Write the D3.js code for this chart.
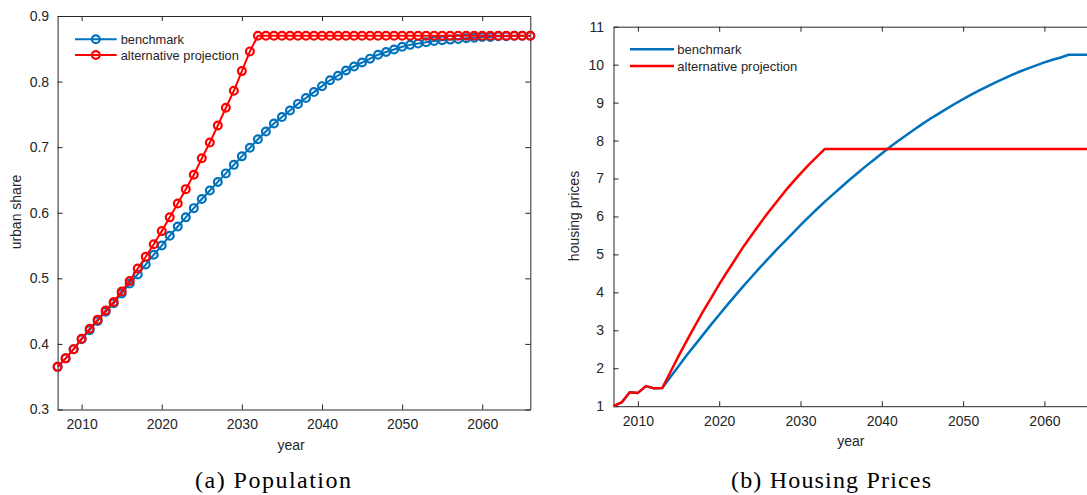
<!DOCTYPE html>
<html>
<head>
<meta charset="utf-8">
<script src="https://cdn.jsdelivr.net/npm/d3@7"></script>
<style>
  body { margin: 0; background: #fff; }
  svg { display: block; }
</style>
</head>
<body>
<script>
// years on the x axis, one point per year
const years = [2007, 2008, 2009, 2010, 2011, 2012, 2013, 2014, 2015, 2016,
  2017, 2018, 2019, 2020, 2021, 2022, 2023, 2024, 2025, 2026,
  2027, 2028, 2029, 2030, 2031, 2032, 2033, 2034, 2035, 2036,
  2037, 2038, 2039, 2040, 2041, 2042, 2043, 2044, 2045, 2046,
  2047, 2048, 2049, 2050, 2051, 2052, 2053, 2054, 2055, 2056,
  2057, 2058, 2059, 2060, 2061, 2062, 2063, 2064, 2065, 2066]

// (a) urban share
const popBenchmark = [0.365, 0.378, 0.392, 0.407, 0.421, 0.435, 0.449, 0.462, 0.477, 0.492,
  0.506, 0.521, 0.536, 0.550, 0.565, 0.579, 0.593, 0.607, 0.621, 0.634,
  0.647, 0.660, 0.673, 0.686, 0.699, 0.712, 0.724, 0.736, 0.746, 0.756,
  0.766, 0.775, 0.784, 0.793, 0.802, 0.809, 0.817, 0.823, 0.829, 0.835,
  0.841, 0.845, 0.849, 0.853, 0.856, 0.858, 0.860, 0.862, 0.863, 0.864,
  0.865, 0.866, 0.867, 0.868, 0.868, 0.869, 0.869, 0.870, 0.870, 0.870]
const popAlternative = [0.365, 0.378, 0.392, 0.408, 0.423, 0.437, 0.451, 0.464, 0.480, 0.496,
  0.515, 0.533, 0.552, 0.572, 0.593, 0.614, 0.636, 0.658, 0.683, 0.707,
  0.733, 0.760, 0.786, 0.816, 0.846, 0.870, 0.870, 0.870, 0.870, 0.870,
  0.870, 0.870, 0.870, 0.870, 0.870, 0.870, 0.870, 0.870, 0.870, 0.870,
  0.870, 0.870, 0.870, 0.870, 0.870, 0.870, 0.870, 0.870, 0.870, 0.870,
  0.870, 0.870, 0.870, 0.870, 0.870, 0.870, 0.870, 0.870, 0.870, 0.870]

// (b) housing prices
const housingBenchmark = [1.00, 1.10, 1.37, 1.35, 1.53, 1.47, 1.48, 1.77, 2.05, 2.34,
  2.61, 2.88, 3.15, 3.41, 3.67, 3.92, 4.17, 4.41, 4.65, 4.88,
  5.11, 5.33, 5.55, 5.77, 5.98, 6.19, 6.39, 6.58, 6.77, 6.96,
  7.14, 7.32, 7.49, 7.66, 7.83, 7.99, 8.14, 8.29, 8.44, 8.58,
  8.71, 8.84, 8.97, 9.09, 9.21, 9.32, 9.43, 9.53, 9.63, 9.73,
  9.82, 9.90, 9.98, 10.06, 10.13, 10.19, 10.26, 10.26, 10.26, 10.26]
const housingAlternative = [1.00, 1.10, 1.37, 1.35, 1.53, 1.47, 1.48, 1.90, 2.32, 2.72,
  3.11, 3.49, 3.85, 4.21, 4.55, 4.88, 5.21, 5.51, 5.81, 6.10,
  6.37, 6.64, 6.89, 7.13, 7.36, 7.57, 7.78, 7.78, 7.78, 7.78,
  7.78, 7.78, 7.78, 7.78, 7.78, 7.78, 7.78, 7.78, 7.78, 7.78,
  7.78, 7.78, 7.78, 7.78, 7.78, 7.78, 7.78, 7.78, 7.78, 7.78,
  7.78, 7.78, 7.78, 7.78, 7.78, 7.78, 7.78, 7.78, 7.78, 7.78]

const yearTicks = [2010, 2020, 2030, 2040, 2050, 2060]
const popTicks = [0.3, 0.4, 0.5, 0.6, 0.7, 0.8, 0.9]
const housingTicks = [1, 2, 3, 4, 5, 6, 7, 8, 9, 10, 11]
const seriesNames = ['benchmark', 'alternative projection']

const blue = '#0072bd'
const red = '#ff0000'
const ink = '#262626'
const sans = '"Liberation Sans", Arial, Helvetica, sans-serif'
const serif = '"Liberation Serif", "Times New Roman", serif'

const W = 1087, H = 495

const svg = d3.select('body').append('svg')
  .attr('width', W)
  .attr('height', H)

function styleAxis(g) {
  g.attr('font-family', sans).attr('font-size', 14)
  g.selectAll('path, line').attr('stroke', ink).attr('stroke-width', 1)
  g.selectAll('text').attr('fill', ink)
}

function drawPanel(p) {
  const x = d3.scaleLinear().domain([2007, 2066]).range(p.xr)
  const y = d3.scaleLinear().domain(p.yd).range(p.yr)
  const g = svg.append('g')

  // box axes, ticks pointing inward
  g.append('g').attr('transform', `translate(0,${p.yr[0]})`)
    .call(d3.axisBottom(x).tickValues(yearTicks).tickFormat(d3.format('d'))
      .tickSizeInner(-5).tickSizeOuter(0).tickPadding(10))
    .call(styleAxis)
  g.append('g').attr('transform', `translate(0,${p.yr[1]})`)
    .call(d3.axisTop(x).tickValues(yearTicks).tickFormat('')
      .tickSizeInner(-5).tickSizeOuter(0))
    .call(styleAxis)
  g.append('g').attr('transform', `translate(${p.xr[0]},0)`)
    .call(d3.axisLeft(y).tickValues(p.yTicks).tickFormat(p.fmt)
      .tickSizeInner(-5).tickSizeOuter(0).tickPadding(p.yPad))
    .call(styleAxis)
  g.append('g').attr('transform', `translate(${p.xr[1]},0)`)
    .call(d3.axisRight(y).tickValues(p.yTicks).tickFormat('')
      .tickSizeInner(-5).tickSizeOuter(0))
    .call(styleAxis)

  const line = d3.line().x((d, i) => x(years[i])).y(d => y(d))
  const colors = [blue, red]

  p.series.forEach((s, k) => {
    g.append('path')
      .datum(s)
      .attr('d', line)
      .attr('fill', 'none')
      .attr('stroke', colors[k])
      .attr('stroke-width', p.lw)
      .attr('stroke-linejoin', 'round')
    if (p.markers) {
      g.append('g').selectAll('circle')
        .data(s)
        .join('circle')
        .attr('cx', (d, i) => x(years[i]))
        .attr('cy', d => y(d))
        .attr('r', 3.9)
        .attr('fill', 'none')
        .attr('stroke', colors[k])
        .attr('stroke-width', 2.2)
    }
  })

  // legend
  const lg = g.append('g')
  seriesNames.forEach((name, k) => {
    const ly = p.leg.y[k]
    lg.append('line')
      .attr('x1', p.leg.x1).attr('x2', p.leg.x2)
      .attr('y1', ly).attr('y2', ly)
      .attr('stroke', colors[k]).attr('stroke-width', p.lw)
    if (p.markers) {
      lg.append('circle')
        .attr('cx', (p.leg.x1 + p.leg.x2) / 2).attr('cy', ly).attr('r', 3.9)
        .attr('fill', 'none').attr('stroke', colors[k]).attr('stroke-width', 2.2)
    }
    lg.append('text')
      .attr('x', p.leg.tx).attr('y', ly + 4.5)
      .attr('font-family', sans).attr('font-size', p.leg.fs)
      .attr('fill', ink)
      .text(name)
  })

  // axis titles
  g.append('text')
    .attr('x', p.xl[0]).attr('y', p.xl[1])
    .attr('text-anchor', 'middle')
    .attr('font-family', sans).attr('font-size', 14).attr('fill', ink)
    .text('year')
  g.append('text')
    .attr('transform', `translate(${p.yl[0]},${p.yl[1]}) rotate(-90)`)
    .attr('text-anchor', 'middle')
    .attr('font-family', sans).attr('font-size', 14).attr('fill', ink)
    .text(p.ylabel)

  // caption
  g.append('text')
    .attr('x', p.cap[0] - p.cap[1] / 2).attr('y', 488)
    .attr('textLength', p.cap[1]).attr('lengthAdjust', 'spacing')
    .attr('font-family', serif).attr('font-size', 24).attr('fill', '#000')
    .text(p.caption)
}

drawPanel({
  xr: [57.6, 530.3], yd: [0.3, 0.9], yr: [409.5, 16],
  yTicks: popTicks, fmt: d3.format('.1f'), yPad: 8.5,
  series: [popBenchmark, popAlternative], markers: true, lw: 2,
  leg: { x1: 75, x2: 116.7, tx: 120.7, y: [39.3, 55], fs: 12.8 },
  xl: [291, 450], yl: [21, 212], ylabel: 'urban share',
  cap: [273, 156], caption: '(a) Population'
})

drawPanel({
  xr: [613.5, 1093.2], yd: [1, 11], yr: [406.2, 26.7],
  yTicks: housingTicks, fmt: d3.format('d'), yPad: 9.5,
  series: [housingBenchmark, housingAlternative], markers: false, lw: 2.5,
  leg: { x1: 630, x2: 674, tx: 677.3, y: [49.3, 66], fs: 13 },
  xl: [850.8, 446], yl: [579, 216], ylabel: 'housing prices',
  cap: [831, 200], caption: '(b) Housing Prices'
})
</script>
</body>
</html>
